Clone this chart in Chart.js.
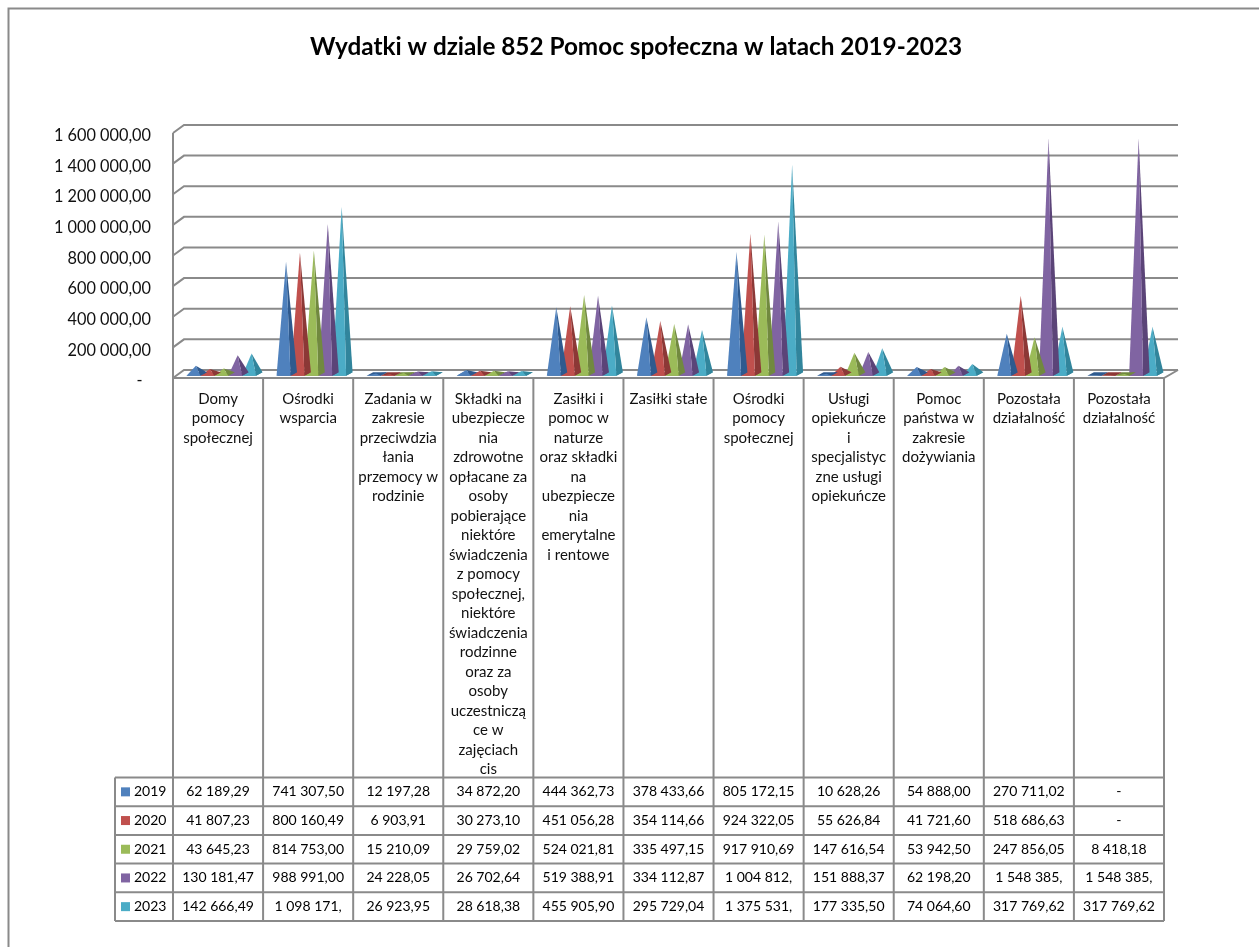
<!DOCTYPE html>
<html lang="pl">
<head>
<meta charset="utf-8">
<title>Wydatki w dziale 852</title>
<script src="https://cdn.jsdelivr.net/npm/chart.js@4"></script>
<style>
	html, body { margin: 0; padding: 0; background: #fff; }
	#wrap { position: relative; width: 1259px; height: 947px; }
</style>
</head>
<body>
<div id="wrap"><canvas id="Chart" width="1259" height="947"></canvas></div>
<script>
// rozdziały - każda pozycja to wiersze opisu w kolumnie tabeli
const categories = [
	['Domy', 'pomocy', 'społecznej'],
	['Ośrodki', 'wsparcia'],
	['Zadania w', 'zakresie', 'przeciwdzia', 'łania', 'przemocy w', 'rodzinie'],
	['Składki na', 'ubezpiecze', 'nia', 'zdrowotne', 'opłacane za', 'osoby', 'pobierające', 'niektóre', 'świadczenia', 'z pomocy', 'społecznej,', 'niektóre', 'świadczenia', 'rodzinne', 'oraz za', 'osoby', 'uczestniczą', 'ce w', 'zajęciach', 'cis'],
	['Zasiłki i', 'pomoc w', 'naturze', 'oraz składki', 'na', 'ubezpiecze', 'nia', 'emerytalne', 'i rentowe'],
	['Zasiłki stałe'],
	['Ośrodki', 'pomocy', 'społecznej'],
	['Usługi', 'opiekuńcze', 'i', 'specjalistyc', 'zne usługi', 'opiekuńcze'],
	['Pomoc', 'państwa w', 'zakresie', 'dożywiania'],
	['Pozostała', 'działalność'],
	['Pozostała', 'działalność'],
];

const years = ['2019', '2020', '2021', '2022', '2023'];

const v2019 = [62189.29, 741307.50, 12197.28, 34872.20, 444362.73, 378433.66, 805172.15, 10628.26, 54888.00, 270711.02, 0];
const v2020 = [41807.23, 800160.49, 6903.91, 30273.10, 451056.28, 354114.66, 924322.05, 55626.84, 41721.60, 518686.63, 0];
const v2021 = [43645.23, 814753.00, 15210.09, 29759.02, 524021.81, 335497.15, 917910.69, 147616.54, 53942.50, 247856.05, 8418.18];
const v2022 = [130181.47, 988991.00, 24228.05, 26702.64, 519388.91, 334112.87, 1004812.00, 151888.37, 62198.20, 1548385.00, 1548385.00];
const v2023 = [142666.49, 1098171.00, 26923.95, 28618.38, 455905.90, 295729.04, 1375531.00, 177335.50, 74064.60, 317769.62, 317769.62];

const seriesColors = ['#4f81bd', '#c0504d', '#9bbb59', '#8064a2', '#4bacc6'];
const sideColors = ['#2f5a8e', '#8c3836', '#71893f', '#5b4478', '#31859c'];

const lineColor = '#8a8a8a';
const fontName = 'Lato, "Open Sans", sans-serif';

// 1 234 567,89 - spacja dzieli tysiące
function formatPl(value) {
	const parts = value.toFixed(2).split('.');
	return parts[0].replace(/\B(?=(\d{3})+(?!\d))/g, ' ') + ',' + parts[1];
}

// wartość w komórce tabeli, milionowe nie mieszczą się i są ucinane
function cellText(value) {
	if (value === 0) return '-';
	const s = formatPl(value);
	return value >= 1000000 ? s.slice(0, 10) : s;
}

// ostrosłup zamiast słupka, rysowany z pozycji elementu słupka
const pyramidPlugin = {
	id: 'pyramids',
	beforeDatasetDraw(chart, args) {
		const ctx = chart.ctx;
		const i = args.index;
		const zero = chart.scales.y.getPixelForValue(0);
		args.meta.data.forEach((bar) => {
			const half = bar.width / 2;
			const cx = bar.x + 3.2;
			const baseY = zero - 5.3;
			const apexX = cx + 2.5;
			const apexY = bar.y - 5.7;
			const dx = 6.5, dy = 3.5;

			ctx.save();
			// podstawa, widoczna gdy wartość jest bliska zera
			ctx.fillStyle = sideColors[i];
			ctx.beginPath();
			ctx.moveTo(cx - half, baseY);
			ctx.lineTo(cx + half, baseY);
			ctx.lineTo(cx + half + dx, baseY - dy);
			ctx.lineTo(cx - half + dx, baseY - dy);
			ctx.closePath();
			ctx.fill();
			// ściana boczna
			ctx.beginPath();
			ctx.moveTo(cx + half, baseY);
			ctx.lineTo(cx + half + dx, baseY - dy);
			ctx.lineTo(apexX, apexY);
			ctx.closePath();
			ctx.fill();
			// ściana przednia
			ctx.fillStyle = seriesColors[i];
			ctx.beginPath();
			ctx.moveTo(cx - half, baseY);
			ctx.lineTo(cx + half, baseY);
			ctx.lineTo(apexX, apexY);
			ctx.closePath();
			ctx.fill();
			ctx.restore();
		});
		return false;
	},
};

// ściana tylna, podłoga i oś w rzucie 3D
const wallsPlugin = {
	id: 'walls',
	beforeDatasetsDraw(chart) {
		const ctx = chart.ctx;
		const y = chart.scales.y;
		const left = chart.chartArea.left;
		const right = chart.chartArea.right;
		ctx.save();
		ctx.strokeStyle = lineColor;
		ctx.lineWidth = 2;
		y.ticks.forEach((tick) => {
			const py = y.getPixelForValue(tick.value);
			ctx.beginPath();
			ctx.moveTo(left, py - 3);
			ctx.lineTo(left + 11, py - 11);
			ctx.lineTo(right + 14, py - 11);
			ctx.stroke();
		});
		// przód podłogi i jej prawa krawędź
		const zero = y.getPixelForValue(0);
		ctx.beginPath();
		ctx.moveTo(left, zero - 3);
		ctx.lineTo(right, zero - 3);
		ctx.lineTo(right + 14, zero - 11);
		ctx.stroke();
		ctx.beginPath();
		ctx.moveTo(left, y.getPixelForValue(1600000) - 3);
		ctx.lineTo(left, zero - 3);
		ctx.stroke();
		ctx.restore();
	},
};

// tabela danych pod wykresem i ramka obszaru
const tablePlugin = {
	id: 'dataTable',
	afterLayout(chart) {
		// tytuł wyśrodkowany nad kolumnami, nie nad całym płótnem
		const title = chart.titleBlock;
		title.left += 54;
		title.right += 54;
	},
	afterDraw(chart) {
		const ctx = chart.ctx;
		const x = chart.scales.x;
		const series = [v2019, v2020, v2021, v2022, v2023];
		const colW = x.width / categories.length;
		const headTop = chart.chartArea.bottom - 3;
		const rowsTop = 777.5;
		const rowH = 28.7;
		const rowsBottom = rowsTop + rowH * years.length;
		const keyLeft = 115;

		ctx.save();
		ctx.strokeStyle = lineColor;
		ctx.lineWidth = 2;
		// ramka z lewej i u góry
		ctx.beginPath();
		ctx.moveTo(8.5, 947);
		ctx.lineTo(8.5, 8.5);
		ctx.lineTo(1259, 8.5);
		ctx.stroke();
		// linie pionowe
		for (let c = 0; c <= categories.length; c++) {
			const px = x.left + colW * c;
			ctx.beginPath();
			ctx.moveTo(px, headTop);
			ctx.lineTo(px, rowsBottom);
			ctx.stroke();
		}
		ctx.beginPath();
		ctx.moveTo(keyLeft, rowsTop);
		ctx.lineTo(keyLeft, rowsBottom);
		ctx.stroke();
		// linie poziome
		for (let r = 0; r <= years.length; r++) {
			const py = rowsTop + rowH * r;
			ctx.beginPath();
			ctx.moveTo(keyLeft, py);
			ctx.lineTo(x.right, py);
			ctx.stroke();
		}
		// klucz legendy i wartości
		ctx.font = '14px ' + fontName;
		ctx.textBaseline = 'middle';
		years.forEach((year, r) => {
			const cy = rowsTop + rowH * r + rowH / 2;
			ctx.fillStyle = seriesColors[r];
			ctx.fillRect(121, cy - 4.5, 9, 9);
			ctx.fillStyle = '#000';
			ctx.textAlign = 'left';
			ctx.fillText(year, 134, cy);
			ctx.textAlign = 'center';
			series[r].forEach((value, c) => {
				ctx.fillText(cellText(value), x.left + colW * (c + 0.5), cy);
			});
		});
		ctx.restore();
	},
};

let lineCtx = document.getElementById('Chart');

let barConfig = {
	type: 'bar',
	data: {
		labels: categories,
		datasets: years.map((year, i) => ({
			label: year,
			data: [v2019, v2020, v2021, v2022, v2023][i],
			backgroundColor: seriesColors[i],
		})),
	},
	options: {
		responsive: false,
		animation: false,
		layout: { padding: { left: 0, right: 95, top: 0, bottom: 0 } },
		datasets: { bar: { categoryPercentage: 0.772, barPercentage: 1 } },
		plugins: {
			legend: { display: false },
			tooltip: { enabled: false },
			title: {
				display: true,
				text: 'Wydatki w dziale 852 Pomoc społeczna w latach 2019-2023',
				color: '#000',
				font: { family: fontName, size: 24.3, weight: 'bold', lineHeight: 1.2 },
				padding: { top: 32.4, bottom: 74.4 },
			},
		},
		scales: {
			x: {
				grid: { display: false, drawTicks: false },
				border: { display: false },
				afterFit(scale) { scale.height = 566; },
				ticks: {
					autoSkip: false,
					maxRotation: 0,
					minRotation: 0,
					padding: 8,
					color: '#111',
					font: { family: fontName, size: 15, lineHeight: '19.5px' },
				},
			},
			y: {
				min: 0,
				max: 1600000,
				grid: { display: false, drawTicks: false },
				border: { display: false },
				afterFit(scale) { scale.width = 173; },
				ticks: {
					stepSize: 200000,
					padding: 22,
					color: '#111',
					font: { family: fontName, size: 16.3 },
					callback: (value) => (value === 0 ? '-  ' : formatPl(value)),
				},
			},
		},
	},
	plugins: [wallsPlugin, pyramidPlugin, tablePlugin],
};

let barChart = new Chart(lineCtx, barConfig);
</script>
</body>
</html>
